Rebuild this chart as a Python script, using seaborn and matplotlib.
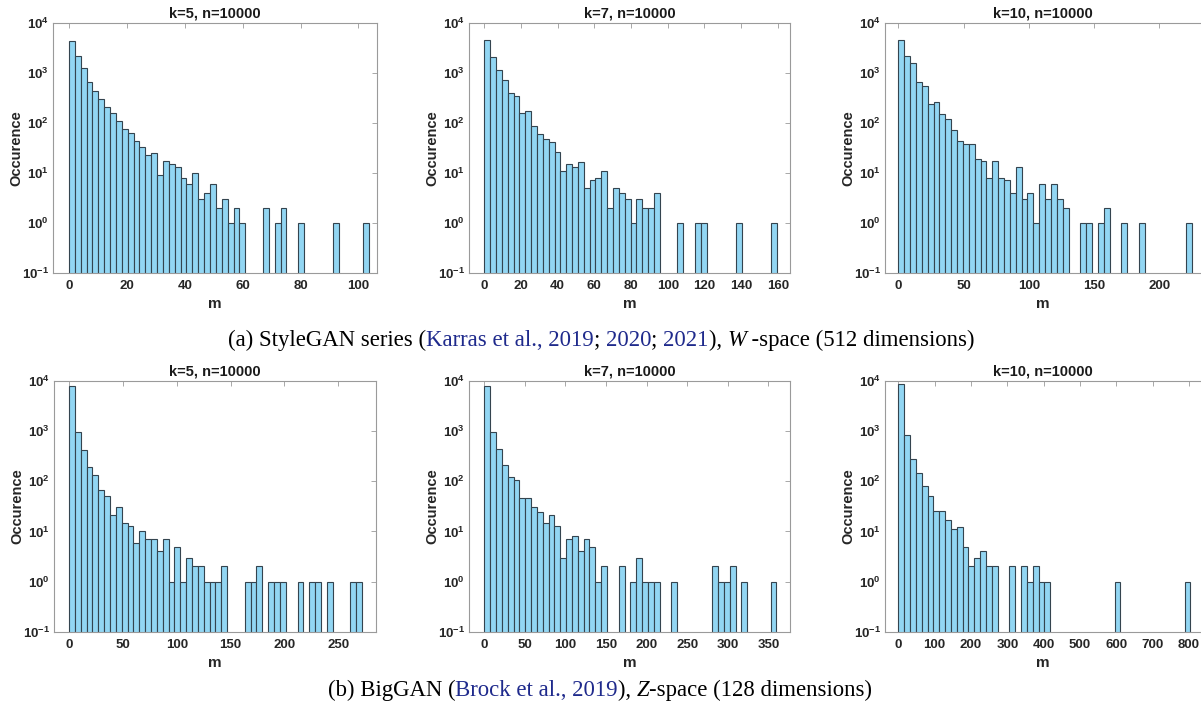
import matplotlib
matplotlib.use("Agg")
import matplotlib.pyplot as plt
import numpy as np
import pandas as pd
import seaborn as sns
from matplotlib.ticker import FixedLocator, FuncFormatter, NullLocator

# Histogram counts per bin (log y axis, 10^-1 .. 10^4)
titles = ["k=5, n=10000", "k=7, n=10000", "k=10, n=10000"]

stylegan_k5 = [4370, 2160, 1220, 660, 424, 302, 203, 159, 110, 76,
               61, 44, 32, 23, 25, 9, 17, 15, 13, 8,
               6, 10, 3, 4, 6, 2, 3, 1, 2, 1,
               0, 0, 0, 2, 0, 1, 2, 0, 0, 1,
               0, 0, 0, 0, 0, 1, 0, 0, 0, 0,
               1]
stylegan_k7 = [4570, 2090, 1150, 710, 400, 345, 155, 170, 87, 60,
               48, 41, 26, 11, 15, 13, 16, 5, 7, 8,
               11, 2, 5, 4, 3, 1, 3, 2, 2, 4,
               0, 0, 0, 1, 0, 0, 1, 1, 0, 0,
               0, 0, 0, 1, 0, 0, 0, 0, 0, 1]
stylegan_k10 = [4440, 2190, 1550, 645, 537, 238, 264, 151, 117, 70,
                44, 38, 38, 19, 17, 8, 17, 8, 7, 4,
                13, 3, 4, 1, 6, 3, 6, 3, 2, 0,
                0, 1, 1, 0, 1, 2, 0, 0, 1, 0,
                0, 1, 0, 0, 0, 0, 0, 0, 0, 1]
biggan_k5 = [8070, 975, 427, 190, 134, 68, 52, 21, 30, 15,
             13, 6, 10, 7, 7, 4, 7, 1, 5, 1,
             3, 2, 2, 1, 1, 1, 2, 0, 0, 0,
             1, 1, 2, 0, 1, 1, 1, 0, 0, 1,
             0, 1, 1, 0, 1, 0, 0, 0, 1, 1]
biggan_k7 = [8070, 975, 440, 214, 120, 106, 46, 46, 31, 24,
             15, 21, 13, 3, 7, 8, 4, 7, 5, 1,
             2, 0, 0, 2, 0, 1, 3, 1, 1, 1,
             0, 0, 1, 0, 0, 0, 0, 0, 0, 2,
             1, 1, 2, 0, 1, 0, 0, 0, 0, 1]
biggan_k10 = [8850, 835, 276, 145, 81, 51, 25, 25, 17, 11,
              12, 5, 2, 3, 4, 2, 2, 0, 0, 2,
              0, 2, 1, 2, 1, 1, 0, 0, 0, 0,
              0, 0, 0, 0, 0, 0, 0, 1, 0, 0,
              0, 0, 0, 0, 0, 0, 0, 0, 0, 1]

# bin width of m for each panel (bins start at 0)
stylegan_widths = [2.03, 3.19, 4.5]
biggan_widths = [5.44, 7.2, 16.08]

stylegan_xticks = [[0, 20, 40, 60, 80, 100],
                   [0, 20, 40, 60, 80, 100, 120, 140, 160],
                   [0, 50, 100, 150, 200]]
biggan_xticks = [[0, 50, 100, 150, 200, 250],
                 [0, 50, 100, 150, 200, 250, 300, 350],
                 [0, 100, 200, 300, 400, 500, 600, 700, 800]]
stylegan_xlims = [(-5.4, 106.3), (-8.2, 166.7), (-10.2, 232)]
biggan_xlims = [(-13.6, 285), (-18.5, 376.7), (-36.7, 833)]

caption_a = [("(a) StyleGAN series (", "k", "normal"), ("Karras et al., 2019", "b", "normal"),
             ("; ", "k", "normal"), ("2020", "b", "normal"), ("; ", "k", "normal"),
             ("2021", "b", "normal"), ("), ", "k", "normal"), ("W", "k", "italic"),
             ("\u2009-space (512 dimensions)", "k", "normal")]
caption_b = [("(b) BigGAN (", "k", "normal"), ("Brock et al., 2019", "b", "normal"),
             ("), ", "k", "normal"), ("Z", "k", "italic"),
             ("-space (128 dimensions)", "k", "normal")]

BAR = "#92d6f3"
EDGE = "#34444f"
SPINE = "#9a9a9a"
TXT = "#262626"
CITE = "#1f2a8c"
W_PX, H_PX = 1201, 711

sns.set_style("white")
plt.rcParams["font.family"] = ["Liberation Sans", "DejaVu Sans"]
plt.rcParams["font.weight"] = "bold"
plt.rcParams["axes.unicode_minus"] = False
plt.rcParams["mathtext.fontset"] = "custom"
plt.rcParams["mathtext.bf"] = "Liberation Sans:bold"
plt.rcParams["mathtext.rm"] = "Liberation Sans:bold"

fig = plt.figure(figsize=(W_PX / 100, H_PX / 100), dpi=100)

# axes boxes in pixels
col_left = [[53.3, 469.3, 885], [54.3, 469.3, 885]]
col_width = [[323.4, 320.7, 316], [321.7, 320.7, 316]]
row_top = [22.7, 381]
row_height = [250, 250.7]


def pow_label(v, pos):
    return r"$\mathbf{10^{%d}}$" % int(round(np.log10(v)))


def draw_hist(ax, counts, width, xlim, xticks, title, last_col):
    edges = [i * width for i in range(len(counts) + 1)]
    df = pd.DataFrame({"m": [e + width / 2 for e in edges[:-1]],
                       "count": [float(v) for v in counts]})
    sns.histplot(data=df, x="m", weights="count", bins=edges, ax=ax, color=BAR,
                 edgecolor=EDGE, linewidth=0.8, alpha=1)
    for p in list(ax.patches):
        if p.get_height() <= 0:
            p.remove()
    ax.set_yscale("log")
    ax.set_ylim(0.1, 1e4)
    ax.set_xlim(*xlim)
    ax.yaxis.set_major_locator(FixedLocator([0.1, 1, 10, 100, 1000, 10000]))
    ax.yaxis.set_major_formatter(FuncFormatter(pow_label))
    ax.yaxis.set_minor_locator(NullLocator())
    ax.xaxis.set_major_locator(FixedLocator(xticks))
    ax.tick_params(axis="both", direction="in", top=True, right=not last_col,
                   length=3.5, width=0.6, color=SPINE, labelsize=9.5,
                   labelcolor=TXT)
    ax.tick_params(axis="x", pad=5)
    ax.tick_params(axis="y", pad=3)
    for sp in ax.spines.values():
        sp.set_color(SPINE)
        sp.set_linewidth(0.8)
    if last_col:
        ax.spines["right"].set_visible(False)
    ax.set_title(title, fontsize=10.5, fontweight="bold", color="#1a1a1a", pad=4)
    ax.set_ylabel("Occurence", fontsize=10.5, fontweight="bold", color=TXT)
    ax.set_xlabel("m", fontsize=11, fontweight="bold", color=TXT)


rows = [
    ([stylegan_k5, stylegan_k7, stylegan_k10], stylegan_widths, stylegan_xlims, stylegan_xticks),
    ([biggan_k5, biggan_k7, biggan_k10], biggan_widths, biggan_xlims, biggan_xticks),
]

for r, (data, widths, xlims, xticks) in enumerate(rows):
    for c in range(3):
        left = col_left[r][c]
        w = col_width[r][c]
        ax = fig.add_axes([left / W_PX, 1 - (row_top[r] + row_height[r]) / H_PX,
                           w / W_PX, row_height[r] / H_PX])
        draw_hist(ax, data[c], widths[c], xlims[c], xticks[c], titles[c], c == 2)
        ax.yaxis.set_label_coords(-30 / w, 0.5)
        ax.xaxis.set_label_coords(0.5, -24 / row_height[r])

# captions with coloured citations
renderer = fig.canvas.get_renderer()
CAP_FONT = dict(fontsize=16.4, family=["Liberation Serif", "DejaVu Serif"], weight="normal")


def text_width(s, style):
    t = fig.text(0, 0, "x" + s + "x", style=style, **CAP_FONT)
    full = t.get_window_extent(renderer).width
    t.remove()
    t = fig.text(0, 0, "xx", style=style, **CAP_FONT)
    base = t.get_window_extent(renderer).width
    t.remove()
    return full - base


def caption(pieces, x_center, y_px):
    widths = [text_width(s, st) for s, _, st in pieces]
    x = x_center - sum(widths) / 2
    for (s, col, st), wd in zip(pieces, widths):
        fig.text(x / W_PX, 1 - y_px / H_PX, s, ha="left", va="center", style=st,
                 color=CITE if col == "b" else "black", **CAP_FONT)
        x += wd


caption(caption_a, 601, 340)
caption(caption_b, 600, 690)

fig.savefig("out.png", dpi=100)
